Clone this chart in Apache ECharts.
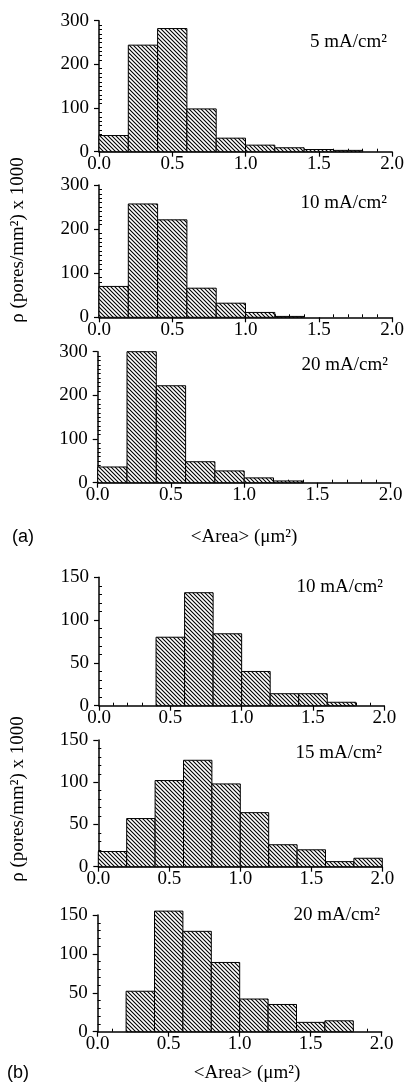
<!DOCTYPE html>
<html><head><meta charset="utf-8">
<script src="https://cdn.jsdelivr.net/npm/echarts@6/dist/echarts.min.js"></script>
<style>html,body{margin:0;padding:0;background:#fff}#c{width:408px;height:1092px}</style>
</head><body><div id="c"></div>
<script>
// ---- data ----
const binEdges = [0.0, 0.2, 0.4, 0.6, 0.8, 1.0, 1.2, 1.4, 1.6, 1.8, 2.0];
const xTickLabels = ['0.0', '0.5', '1.0', '1.5', '2.0'];
const yTickLabelsA = ['0', '100', '200', '300'];
const yTickLabelsB = ['0', '50', '100', '150'];
const a5mA  = [37, 244, 282, 98, 31, 15, 9, 5, 3, 0];
const a10mA = [70, 257, 221, 66, 32, 11, 2, 0, 0, 0];
const a20mA = [36, 300, 222, 48, 27, 11, 4, 0, 0, 0];
const b10mA = [0, 0, 80, 132, 84, 40, 14, 14, 4, 0];
const b15mA = [18, 57, 102, 126, 98, 64, 26, 20, 6, 10];
const b20mA = [0, 52, 155, 129, 89, 42, 35, 12, 14, 0];
const panelLabels = ['5 mA/cm²', '10 mA/cm²', '20 mA/cm²', '10 mA/cm²', '15 mA/cm²', '20 mA/cm²'];
const yTitle = 'ρ (pores/mm²) x 1000';
const xTitle = '<Area> (μm²)';
const partLabels = ['(a)', '(b)'];

// ---- layout ----
const panels = [
  {data: a5mA,  left: 99,   width: 293, top: 20.7,  height: 131,   yMax: 300, yInt: 100, yTicks: yTickLabelsA, minor: 10, lab: [387, 42]},
  {data: a10mA, left: 99,   width: 293, top: 185,   height: 132.3, yMax: 300, yInt: 100, yTicks: yTickLabelsA, minor: 10, lab: [387, 203]},
  {data: a20mA, left: 97.7, width: 293, top: 351.7, height: 131,   yMax: 300, yInt: 100, yTicks: yTickLabelsA, minor: 10, lab: [388, 365]},
  {data: b10mA, left: 99,   width: 285.3, top: 577.3, height: 128.4, yMax: 150, yInt: 50, yTicks: yTickLabelsB, minor: 5, lab: [383, 587]},
  {data: b15mA, left: 98.3, width: 284, top: 740,   height: 126.7, yMax: 150, yInt: 50, yTicks: yTickLabelsB, minor: 5, lab: [382, 753]},
  {data: b20mA, left: 97.7, width: 284, top: 915,   height: 116.7, yMax: 150, yInt: 50, yTicks: yTickLabelsB, minor: 5, lab: [380, 915]}
];

const FONT = '"Liberation Serif", "Times New Roman", serif';

function hatchCanvas() {
  const p = 4;
  const c = document.createElement('canvas');
  c.width = p; c.height = p;
  const g = c.getContext('2d');
  g.fillStyle = '#fff'; g.fillRect(0, 0, p, p);
  g.strokeStyle = '#000'; g.lineWidth = 1.1;
  g.beginPath();
  g.moveTo(-1, -1); g.lineTo(p + 1, p + 1);
  g.moveTo(-1, p - 1); g.lineTo(1, p + 1);
  g.moveTo(p - 1, -1); g.lineTo(p + 1, 1);
  g.stroke();
  return c;
}
const pat = hatchCanvas();

const grid = [], xAxis = [], yAxis = [], series = [], graphic = [];
panels.forEach((p, i) => {
  grid.push({left: p.left, top: p.top, width: p.width, height: p.height});
  const axLine = {show: true, lineStyle: {color: '#000', width: 1.5}};
  // main x axis
  xAxis.push({type: 'value', gridIndex: i, min: 0, max: 2, interval: 0.5, position: 'bottom',
    axisLine: axLine, splitLine: {show: false},
    axisTick: {show: true, length: 5, lineStyle: {color: '#000', width: 1.2}},
    axisLabel: {color: '#000', fontFamily: FONT, fontSize: 19, margin: 3,
      formatter: v => xTickLabels[Math.round(v / 0.5)]}});
  // minor-tick x axis (inside)
  xAxis.push({type: 'value', gridIndex: i, min: 0, max: 2, interval: 0.5, position: 'bottom',
    axisLine: {show: false}, splitLine: {show: false}, axisLabel: {show: false},
    axisTick: {show: false, inside: true},
    minorTick: {show: true, splitNumber: 5, length: 3, lineStyle: {color: '#000', width: 1}}});
  yAxis.push({type: 'value', gridIndex: i, min: 0, max: p.yMax, interval: p.yInt, position: 'left',
    axisLine: axLine, splitLine: {show: false},
    axisTick: {show: true, length: 5, lineStyle: {color: '#000', width: 1.2}},
    axisLabel: {color: '#000', fontFamily: FONT, fontSize: 19, margin: 10,
      formatter: v => p.yTicks[Math.round(v / p.yInt)]}});
  yAxis.push({type: 'value', gridIndex: i, min: 0, max: p.yMax, interval: p.yInt, position: 'left',
    axisLine: {show: false}, splitLine: {show: false}, axisLabel: {show: false},
    axisTick: {show: false, inside: true},
    minorTick: {show: true, splitNumber: p.minor, length: 3, lineStyle: {color: '#000', width: 1}}});
  series.push({
    type: 'custom', xAxisIndex: 2 * i, yAxisIndex: 2 * i,
    data: p.data.map((v, k) => [binEdges[k], binEdges[k + 1], v]),
    encode: {x: [0, 1], y: 2},
    renderItem: (params, api) => {
      const v = api.value(2);
      if (!v) return null;
      const a = api.coord([api.value(0), v]);
      const b = api.coord([api.value(1), 0]);
      return {type: 'rect', shape: {x: a[0], y: a[1], width: b[0] - a[0], height: b[1] - a[1]},
        style: {fill: {image: pat, repeat: 'repeat'}, stroke: '#000', lineWidth: 1}};
    },
    z: 1
  });
  graphic.push({type: 'text', x: p.lab[0], y: p.lab[1], z: 10,
    style: {text: panelLabels[i], font: '19px ' + FONT, fill: '#000',
      align: 'right', verticalAlign: 'middle', textAlign: 'right', textVerticalAlign: 'middle'}});
});

[[18, 240], [18, 799]].forEach(pos => {
  graphic.push({type: 'text', x: pos[0], y: pos[1], rotation: Math.PI / 2, z: 10,
    style: {text: yTitle, font: '19px ' + FONT, fill: '#000',
      align: 'center', verticalAlign: 'middle', textAlign: 'center', textVerticalAlign: 'middle'}});
});
[[244, 537], [247, 1073]].forEach(pos => {
  graphic.push({type: 'text', x: pos[0], y: pos[1], z: 10,
    style: {text: xTitle, font: '19px ' + FONT, fill: '#000',
      align: 'center', verticalAlign: 'middle', textAlign: 'center', textVerticalAlign: 'middle'}});
});
[[12, 537], [7, 1073]].forEach((pos, k) => {
  graphic.push({type: 'text', x: pos[0], y: pos[1], z: 10,
    style: {text: partLabels[k], font: '18px "Liberation Sans", Arial, sans-serif', fill: '#000',
      align: 'left', verticalAlign: 'middle', textAlign: 'left', textVerticalAlign: 'middle'}});
});

const chart = echarts.init(document.getElementById('c'), null, {renderer: 'canvas'});
chart.setOption({animation: false, backgroundColor: '#fff', grid, xAxis, yAxis, series, graphic});
</script>
</body></html>
